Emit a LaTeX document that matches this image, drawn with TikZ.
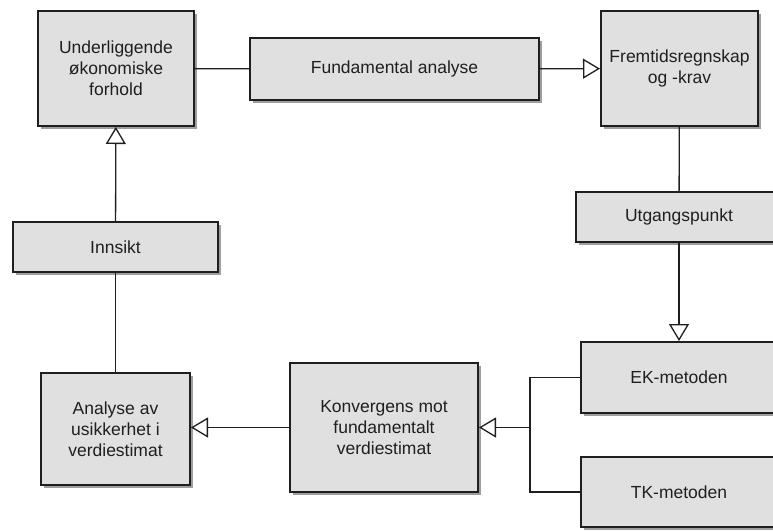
\documentclass[tikz,border=0pt]{standalone}
\usepackage{fontspec}
\setmainfont{Liberation Sans}
\usetikzlibrary{arrows.meta, shadows}

\tikzset{
  blokk/.style={draw=black!88, line width=2pt, fill=black!12,
    drop shadow={shadow xshift=3pt, shadow yshift=-3pt, fill=black!38, opacity=1},
    font=\fontsize{17.5}{21}\selectfont, text=black!88, align=center, inner sep=0pt},
  linje/.style={draw=black!88, line width=1.3pt},
  pil/.style={linje, -{Triangle[open, width=20pt, length=17pt, fill=white]}},
}

\begin{document}
\begin{tikzpicture}[x=1pt, y=-1pt]
        \useasboundingbox[fill=white] (0,0) rectangle (773,531);

        % ===== TOPP =====
        \node[blokk, minimum width=156pt, minimum height=115pt] (uof) at (116, 68.5)
            {Underliggende\\økonomiske\\forhold};
        \node[blokk, minimum width=289pt, minimum height=62pt] (fa) at (394.5, 69)
            {Fundamental analyse};
        \node[blokk, minimum width=157pt, minimum height=115pt] (fremtid) at (679.5, 68.5)
            {Fremtidsregnskap\\og -krav};

        % ===== HOYRE SIDE =====
        \node[blokk, minimum width=206pt, minimum height=50pt] (utgang) at (679, 217)
            {Utgangspunkt};
        \node[blokk, minimum width=196pt, minimum height=71pt] (ek) at (679, 377.5)
            {EK-metoden};
        \node[blokk, minimum width=196pt, minimum height=70pt] (tk) at (679, 492)
            {TK-metoden};

        % ===== BUNN / VENSTRE =====
        \node[blokk, minimum width=188pt, minimum height=129pt] (konv) at (384, 427.5)
            {Konvergens mot\\fundamentalt\\verdiestimat};
        \node[blokk, minimum width=149pt, minimum height=112pt] (analyse) at (115.5, 429)
            {Analyse av\\usikkerhet i\\verdiestimat};
        \node[blokk, minimum width=205pt, minimum height=50pt] (innsikt) at (115.5, 247)
            {Innsikt};

        % forbindelser
        \draw[linje] (uof) -- (fa);
        \draw[pil] (fa) -- (fremtid);
        \draw[linje] (fremtid) -- (utgang);
        \draw[pil] (utgang) -- (ek);

        \coordinate (knute) at ([xshift=51pt]konv.east);
        \draw[linje] (ek.west) -| (knute) |- (tk.west);
        \draw[pil] (knute) -- (konv.east);
        \draw[pil] (konv.west) -- (konv.west -| analyse.east);

        \draw[linje] (analyse) -- (innsikt);
        \draw[pil] (innsikt) -- (uof);
    \end{tikzpicture}
\end{document}
